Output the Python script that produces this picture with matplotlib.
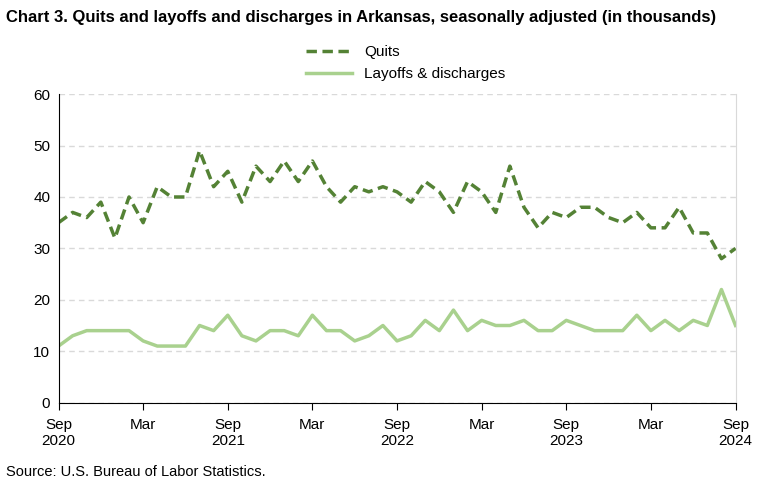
import matplotlib
matplotlib.use("Agg")
import matplotlib.pyplot as plt
import numpy as np

quits = [35,37,36,39, 32,40,35,42,40,40,49,42,45,39,46,43,
         47,43,47,42,39,42,41,42,41,39,43,41,
         37,43,41,37,46,38,34,37,36,38,38,36,
         35,37,34,34,38,33,33,28,30]
layoffs = [11,13,14,14, 14,14,12,11,11,11,15,14,17,13,12,14,
           14,13,17,14,14,12,13,15,12,13,16,14,
           18,14,16,15,15,16,14,14,16,15,14,14,
           14,17,14,16,14,16,15,22,15]
tick_pos = [0,6,12,18,24,30,36,42,48]
tick_labels = ["Sep\n2020","Mar","Sep\n2021","Mar","Sep\n2022","Mar","Sep\n2023","Mar","Sep\n2024"]

plt.rcParams["font.family"] = "Liberation Sans"
fig = plt.figure(figsize=(7.8,4.88), dpi=100)
ax = fig.add_axes([0.075, 0.175, 0.868, 0.632])
x = np.arange(len(quits))
ax.plot(x, quits, color="#548235", lw=2.5, ls=(0,(3,1.6)), label="Quits")
ax.plot(x, layoffs, color="#a9d18e", lw=2.5, label="Layoffs & discharges")
ax.set_xlim(0,48); ax.set_ylim(0,60)
ax.set_yticks(range(0,61,10))
ax.set_xticks(tick_pos); ax.set_xticklabels(tick_labels)
ax.tick_params(labelsize=11, length=0, pad=6)
ax.tick_params(axis="x", length=5, direction="out", color="#000")
ax.grid(axis="y", color="#d9d9d9", ls=(0,(4,3)), lw=1)
for s in ["top"]: ax.spines[s].set_visible(False)
ax.spines["right"].set_color("#d9d9d9")
ax.spines["left"].set_color("black")
ax.spines["bottom"].set_color("black")
fig.text(0.008, 0.965, "Chart 3. Quits and layoffs and discharges in Arkansas, seasonally adjusted (in thousands)",
         fontsize=12, fontweight="bold", va="center")
fig.legend(loc="upper left", bbox_to_anchor=(0.375, 0.935), frameon=False, fontsize=11,
           handlelength=3, labelspacing=0.5)
fig.text(0.008, 0.025, "Source: U.S. Bureau of Labor Statistics.", fontsize=10.5)
fig.savefig("out.png")
